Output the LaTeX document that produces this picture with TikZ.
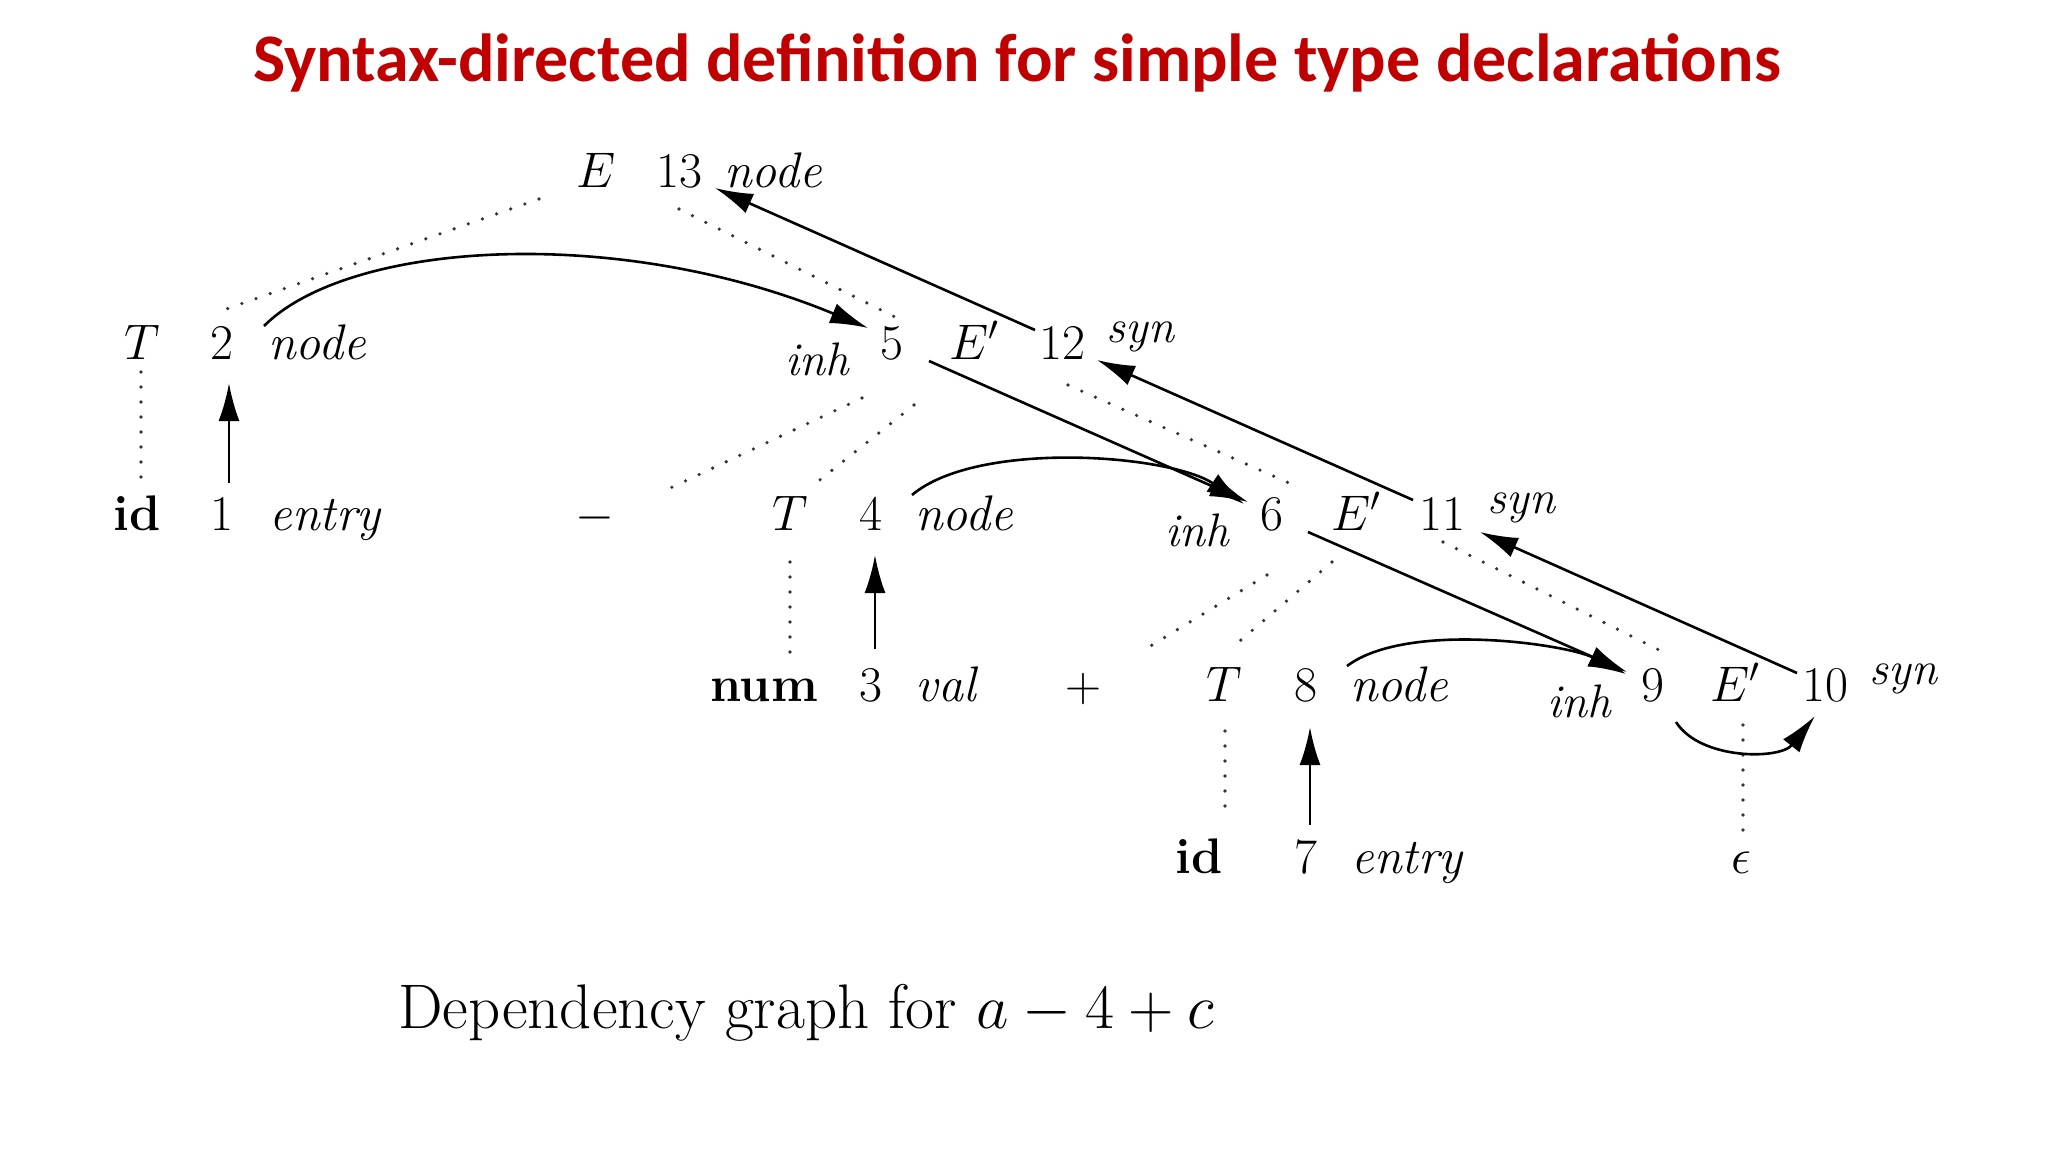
\RequirePackage{fix-cm}
\documentclass[tikz,border=0pt]{standalone}
\usepackage{fontspec}
\newfontfamily\titlefont{Carlito}
\usetikzlibrary{arrows.meta,calc}
\definecolor{titlered}{RGB}{192,0,0}
\begin{document}
\begin{tikzpicture}[x=1pt,y=-1pt,
  lbl/.style={inner sep=0pt, anchor=base, font=\fontsize{50}{60}\selectfont},
  small/.style={inner sep=0pt, anchor=base, font=\fontsize{47}{56}\selectfont},
  tree/.style={draw=black!80, line width=3.6pt, line cap=round, dash pattern=on 0pt off 15pt},
  dep/.style={draw=black, line width=2.6pt, -{Latex[length=38pt,width=21pt]}},
]
\path[use as bounding box, fill=white] (0,0) rectangle (2048,1152);

% title
\node[anchor=base, inner sep=0pt, font=\titlefont\bfseries\fontsize{68}{82}\selectfont, text=titlered] (title) at (1017,81) {Syntax-directed definition for simple type declarations};

% row 1
\node[lbl] (E1) at (596,187) {$E$};
\node[lbl] (n13) at (679,187) {13};
\node[lbl] (a13) at (773,187) {\textit{node}};

% row 2
\node[lbl] (T2) at (142,359) {$T$};
\node[lbl] (n2) at (222,359) {2};
\node[lbl] (a2) at (317,359) {\textit{node}};
\node[small] (inh5) at (818,375) {\textit{inh}};
\node[lbl] (n5) at (892,359) {5};
\node[lbl] (Ep5) at (974,359) {$E'$};
\node[lbl] (n12) at (1062,359) {12};
\node[small] (syn12) at (1141,342) {\textit{syn}};

% row 3
\node[lbl] (id1) at (137,530) {\textbf{id}};
\node[lbl] (n1) at (222,530) {1};
\node[lbl] (a1) at (326,530) {\textit{entry}};
\node[lbl] (minus) at (595,530) {$-$};
\node[lbl] (T3) at (790,530) {$T$};
\node[lbl] (n4) at (871,530) {4};
\node[lbl] (a4) at (964,530) {\textit{node}};
\node[small] (inh6) at (1198,546) {\textit{inh}};
\node[lbl] (n6) at (1272,530) {6};
\node[lbl] (Ep6) at (1356,530) {$E'$};
\node[lbl] (n11) at (1442,530) {11};
\node[small] (syn11) at (1522,513) {\textit{syn}};

% row 4
\node[lbl] (num3) at (764,701) {\textbf{num}};
\node[lbl] (n3) at (871,701) {3};
\node[lbl] (a3) at (947,701) {\textit{val}};
\node[lbl] (plus) at (1083,701) {$+$};
\node[lbl] (T4) at (1224,701) {$T$};
\node[lbl] (n8) at (1306,701) {8};
\node[lbl] (a8) at (1399,701) {\textit{node}};
\node[small] (inh9) at (1580,717) {\textit{inh}};
\node[lbl] (n9) at (1653,701) {9};
\node[lbl] (Ep9) at (1735,701) {$E'$};
\node[lbl] (n10) at (1825,701) {10};
\node[small] (syn10) at (1904,684) {\textit{syn}};

% row 5
\node[lbl] (id7) at (1199,873) {\textbf{id}};
\node[lbl] (n7) at (1306,873) {7};
\node[lbl] (a7) at (1408,873) {\textit{entry}};
\node[lbl] (eps) at (1741,873) {$\epsilon$};

% caption
\node[anchor=base west, inner sep=0pt, font=\fontsize{63}{76}\selectfont] (cap) at (398,1028) {Dependency graph for $a-4+c$};

% parse tree (dotted)
\draw[tree] ($(E1.base)+(-57,12)$) -- ($(T2.base)+(73,-46)$);
\draw[tree] ($(E1.base)+(83,22)$) -- ($(Ep5.base)+(-73,-39)$);
\draw[tree] ($(T2.base)+(-1,13)$) -- ($(id1.base)+(4,-53)$);
\draw[tree] ($(Ep5.base)+(-112,39)$) -- ($(minus.base)+(71,-40)$);
\draw[tree] ($(Ep5.base)+(-60,46)$) -- ($(T3.base)+(26,-47)$);
\draw[tree] ($(Ep5.base)+(94,26)$) -- ($(Ep6.base)+(-67,-47)$);
\draw[tree] ($(T3.base)+(0,32)$) -- ($(num3.base)+(26,-48)$);
\draw[tree] ($(Ep6.base)+(-89,45)$) -- ($(plus.base)+(56,-48)$);
\draw[tree] ($(Ep6.base)+(-24,32)$) -- ($(T4.base)+(10,-55)$);
\draw[tree] ($(Ep6.base)+(87,12)$) -- ($(Ep9.base)+(-70,-48)$);
\draw[tree] ($(T4.base)+(1,30)$) -- ($(id7.base)+(26,-57)$);
\draw[tree] ($(Ep9.base)+(8,24)$) -- ($(eps.base)+(2,-36)$);

% dependency arrows
\draw[dep] ($(n1.base)+(7,-47)$) -- ($(n2.base)+(7,24)$);
\draw[dep] ($(n3.base)+(4,-52)$) -- ($(n4.base)+(4,25)$);
\draw[dep] ($(n7.base)+(4,-48)$) -- ($(n8.base)+(4,26)$);
\draw[dep] ($(a2.base)+(-53,-33)$) .. controls +(86,-86) and +(-248,-103) .. ($(n5.base)+(-24,-31)$);
\draw[dep] ($(n5.base)+(37,2)$) -- ($(n6.base)+(-24,-28)$);
\draw[dep] ($(a4.base)+(-52,-35)$) .. controls +(65,-55) and +(-75,-50) .. ($(n6.base)+(-28,-26)$);
\draw[dep] ($(n6.base)+(36,2)$) -- ($(n9.base)+(-26,-29)$);
\draw[dep] ($(a8.base)+(-52,-35)$) .. controls +(60,-45) and +(-60,-30) .. ($(n9.base)+(-27,-27)$);
\draw[dep] ($(n9.base)+(23,21)$) .. controls +(24,38) and +(-35,44) .. ($(n10.base)+(-10,15)$);
\draw[dep] ($(n10.base)+(-28,-28)$) -- ($(n11.base)+(38,2)$);
\draw[dep] ($(n11.base)+(-29,-30)$) -- ($(n12.base)+(35,1)$);
\draw[dep] ($(n12.base)+(-27,-29)$) -- ($(n13.base)+(36,1)$);
\end{tikzpicture}
\end{document}
